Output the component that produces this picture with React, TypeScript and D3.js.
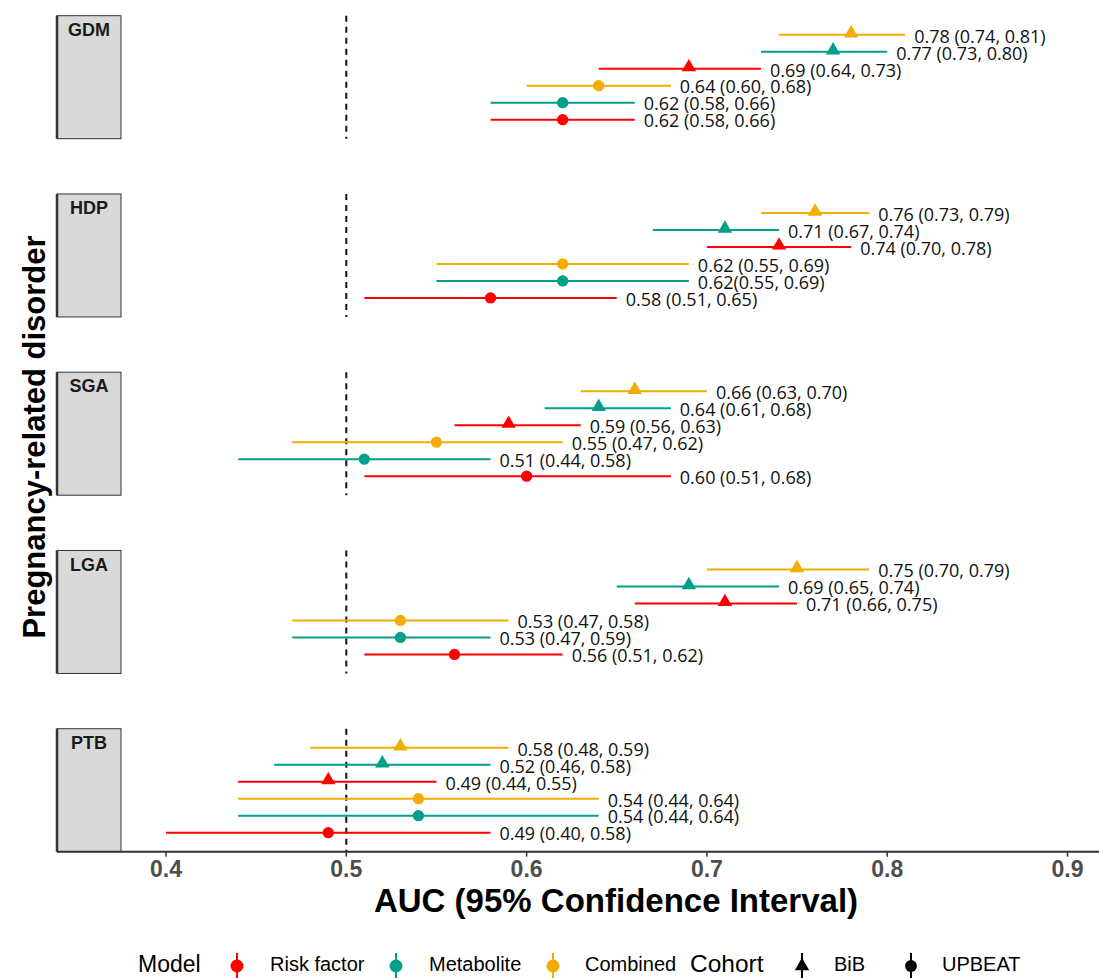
import React, { useEffect, useRef } from 'react';
import * as d3 from 'd3';

// facets and rows (top to bottom inside each facet)
const disorders = ['GDM', 'HDP', 'SGA', 'LGA', 'PTB'];
const rowModels = ['Combined', 'Metabolite', 'Risk factor', 'Combined', 'Metabolite', 'Risk factor'];
const rowCohorts = ['BiB', 'BiB', 'BiB', 'UPBEAT', 'UPBEAT', 'UPBEAT'];

// AUC, lower and upper CI as drawn
const aucGDM = [0.78, 0.77, 0.69, 0.64, 0.62, 0.62];
const lowGDM = [0.74, 0.73, 0.64, 0.60, 0.58, 0.58];
const highGDM = [0.81, 0.80, 0.73, 0.68, 0.66, 0.66];
const textGDM = ['0.78 (0.74, 0.81)', '0.77 (0.73, 0.80)', '0.69 (0.64, 0.73)', '0.64 (0.60, 0.68)', '0.62 (0.58, 0.66)', '0.62 (0.58, 0.66)'];

const aucHDP = [0.76, 0.71, 0.74, 0.62, 0.62, 0.58];
const lowHDP = [0.73, 0.67, 0.70, 0.55, 0.55, 0.51];
const highHDP = [0.79, 0.74, 0.78, 0.69, 0.69, 0.65];
const textHDP = ['0.76 (0.73, 0.79)', '0.71 (0.67, 0.74)', '0.74 (0.70, 0.78)', '0.62 (0.55, 0.69)', '0.62(0.55, 0.69)', '0.58 (0.51, 0.65)'];

const aucSGA = [0.66, 0.64, 0.59, 0.55, 0.51, 0.60];
const lowSGA = [0.63, 0.61, 0.56, 0.47, 0.44, 0.51];
const highSGA = [0.70, 0.68, 0.63, 0.62, 0.58, 0.68];
const textSGA = ['0.66 (0.63, 0.70)', '0.64 (0.61, 0.68)', '0.59 (0.56, 0.63)', '0.55 (0.47, 0.62)', '0.51 (0.44, 0.58)', '0.60 (0.51, 0.68)'];

const aucLGA = [0.75, 0.69, 0.71, 0.53, 0.53, 0.56];
const lowLGA = [0.70, 0.65, 0.66, 0.47, 0.47, 0.51];
const highLGA = [0.79, 0.74, 0.75, 0.59, 0.58, 0.62];
const textLGA = ['0.75 (0.70, 0.79)', '0.69 (0.65, 0.74)', '0.71 (0.66, 0.75)', '0.53 (0.47, 0.58)', '0.53 (0.47, 0.59)', '0.56 (0.51, 0.62)'];

const aucPTB = [0.53, 0.52, 0.49, 0.54, 0.54, 0.49];
const lowPTB = [0.48, 0.46, 0.44, 0.44, 0.44, 0.40];
const highPTB = [0.59, 0.58, 0.55, 0.64, 0.64, 0.58];
const textPTB = ['0.58 (0.48, 0.59)', '0.52 (0.46, 0.58)', '0.49 (0.44, 0.55)', '0.54 (0.44, 0.64)', '0.54 (0.44, 0.64)', '0.49 (0.40, 0.58)'];

const xTicks = [0.4, 0.5, 0.6, 0.7, 0.8, 0.9];
const modelNames = ['Risk factor', 'Metabolite', 'Combined'];
const modelColors = ['#FF0000', '#00A08A', '#F2AD00'];
const cohortNames = ['BiB', 'UPBEAT'];

const tables: Record<string, number[][]> = {
  GDM: [aucGDM, lowGDM, highGDM],
  HDP: [aucHDP, lowHDP, highHDP],
  SGA: [aucSGA, lowSGA, highSGA],
  LGA: [aucLGA, lowLGA, highLGA],
  PTB: [aucPTB, lowPTB, highPTB],
};
const texts: Record<string, string[]> = { GDM: textGDM, HDP: textHDP, SGA: textSGA, LGA: textLGA, PTB: textPTB };

const SANS = '"Liberation Sans", Arial, sans-serif';

function ForestPlot() {
  const ref = useRef<SVGSVGElement>(null);

  useEffect(() => {
    const width = 1099;
    const height = 978;
    const svg = d3.select(ref.current);
    svg.selectAll('*').remove();

    const x = d3.scaleLinear().domain([0.4, 0.9]).range([166, 1067.5]);
    const panel = d3.scaleBand().domain(disorders).range([15.7, 851.7]).paddingInner(0.31).paddingOuter(0);
    const row = d3.scalePoint<number>().domain(d3.range(6)).range([0, panel.bandwidth()]).padding(1.12);
    const color = d3.scaleOrdinal<string, string>().domain(modelNames).range(modelColors);

    const stripL = 57;
    const stripR = 121;

    disorders.forEach(dis => {
      const top = panel(dis)!;
      const g = svg.append('g').attr('transform', `translate(0,${top})`);

      // strip
      g.append('rect')
        .attr('x', stripL).attr('y', 0)
        .attr('width', stripR - stripL).attr('height', panel.bandwidth())
        .attr('fill', '#D9D9D9').attr('stroke', '#333').attr('stroke-width', 1);
      g.append('line')
        .attr('x1', stripL).attr('x2', stripL).attr('y1', 0).attr('y2', panel.bandwidth())
        .attr('stroke', '#333').attr('stroke-width', 2.5);
      g.append('text')
        .attr('x', (stripL + stripR) / 2).attr('y', 15.5)
        .attr('text-anchor', 'middle').attr('dominant-baseline', 'middle')
        .attr('font-family', SANS).attr('font-weight', 'bold').attr('font-size', 18)
        .attr('fill', '#1a1a1a')
        .text(dis);

      // reference line at 0.5
      g.append('line')
        .attr('x1', x(0.5)).attr('x2', x(0.5)).attr('y1', 0).attr('y2', panel.bandwidth())
        .attr('stroke', '#111').attr('stroke-width', 2).attr('stroke-dasharray', '6,5');

      const [auc, low, high] = tables[dis];
      const rows = auc.map((a, i) => ({
        auc: a, low: low[i], high: high[i], model: rowModels[i], cohort: rowCohorts[i], label: texts[dis][i], i,
      }));

      const r = g.selectAll('.row').data(rows).enter().append('g').attr('class', 'row');

      r.append('line')
        .attr('x1', d => x(d.low)).attr('x2', d => x(d.high))
        .attr('y1', d => row(d.i)!).attr('y2', d => row(d.i)!)
        .attr('stroke', d => color(d.model)).attr('stroke-width', 2);

      r.append('path')
        .attr('transform', d => `translate(${x(d.auc)},${row(d.i)! + (d.cohort === 'BiB' ? -1.5 : 0)})`)
        .attr('d', d => d3.symbol(d.cohort === 'BiB' ? d3.symbolTriangle : d3.symbolCircle, d.cohort === 'BiB' ? 90 : 100)()!)
        .attr('fill', d => color(d.model));

      r.append('text')
        .attr('x', d => x(d.high) + 9)
        .attr('y', d => row(d.i)! + 3)
        .attr('dominant-baseline', 'middle')
        .attr('font-family', '"Open Sans", "Noto Sans", sans-serif')
        .attr('font-size', 18)
        .attr('fill', '#111')
        .text(d => d.label);
    });

    // x axis
    const axisY = 851.7;
    svg.append('line')
      .attr('x1', stripL).attr('x2', width).attr('y1', axisY).attr('y2', axisY)
      .attr('stroke', '#333').attr('stroke-width', 2);
    const ticks = svg.selectAll('.tick').data(xTicks).enter().append('g').attr('class', 'tick');
    ticks.append('line')
      .attr('x1', d => x(d)).attr('x2', d => x(d)).attr('y1', axisY).attr('y2', axisY + 5)
      .attr('stroke', '#333').attr('stroke-width', 1.5);
    ticks.append('text')
      .attr('x', d => x(d)).attr('y', axisY + 25)
      .attr('text-anchor', 'middle')
      .attr('font-family', SANS).attr('font-weight', 'bold').attr('font-size', 23)
      .attr('fill', '#4D4D4D')
      .text(d => d3.format('.1f')(d));

    svg.append('text')
      .attr('x', 616).attr('y', 912)
      .attr('text-anchor', 'middle')
      .attr('font-family', SANS).attr('font-weight', 'bold').attr('font-size', 33)
      .attr('fill', '#000')
      .text('AUC (95% Confidence Interval)');

    svg.append('text')
      .attr('transform', 'translate(45,437) rotate(-90)')
      .attr('text-anchor', 'middle')
      .attr('font-family', SANS).attr('font-weight', 'bold').attr('font-size', 31)
      .attr('fill', '#000')
      .text('Pregnancy-related disorder');

    // legend
    const ly = 966;
    const leg = svg.append('g');
    leg.append('text').attr('x', 138).attr('y', ly).attr('dominant-baseline', 'middle')
      .attr('font-family', SANS).attr('font-size', 23).text('Model');
    const modelKeyX = [237, 396, 553];
    const modelTextX = [270, 429, 585];
    modelNames.forEach((m, i) => {
      leg.append('line').attr('x1', modelKeyX[i]).attr('x2', modelKeyX[i]).attr('y1', ly - 13).attr('y2', ly + 13)
        .attr('stroke', color(m)).attr('stroke-width', 2);
      leg.append('circle').attr('cx', modelKeyX[i]).attr('cy', ly).attr('r', 6.5).attr('fill', color(m));
      leg.append('text').attr('x', modelTextX[i]).attr('y', ly).attr('dominant-baseline', 'middle')
        .attr('font-family', SANS).attr('font-size', 20).text(m);
    });
    leg.append('text').attr('x', 690).attr('y', ly).attr('dominant-baseline', 'middle')
      .attr('font-family', SANS).attr('font-size', 24.5).text('Cohort');
    const cohortKeyX = [802, 911];
    const cohortTextX = [834, 942];
    cohortNames.forEach((c, i) => {
      leg.append('line').attr('x1', cohortKeyX[i]).attr('x2', cohortKeyX[i]).attr('y1', ly - 13).attr('y2', ly + 13)
        .attr('stroke', '#000').attr('stroke-width', 2);
      leg.append('path')
        .attr('transform', `translate(${cohortKeyX[i]},${ly})`)
        .attr('d', d3.symbol(c === 'BiB' ? d3.symbolTriangle : d3.symbolCircle, c === 'BiB' ? 90 : 110)()!)
        .attr('fill', '#000');
      leg.append('text').attr('x', cohortTextX[i]).attr('y', ly).attr('dominant-baseline', 'middle')
        .attr('font-family', SANS).attr('font-size', 20).text(c);
    });

    svg.attr('width', width).attr('height', height);
  }, []);

  return (
    <svg ref={ref} width={1099} height={978}
      style={{ position: 'absolute', left: 0, top: 0, background: '#fff' }} />
  );
}

export default function App() {
  return <ForestPlot />;
}
